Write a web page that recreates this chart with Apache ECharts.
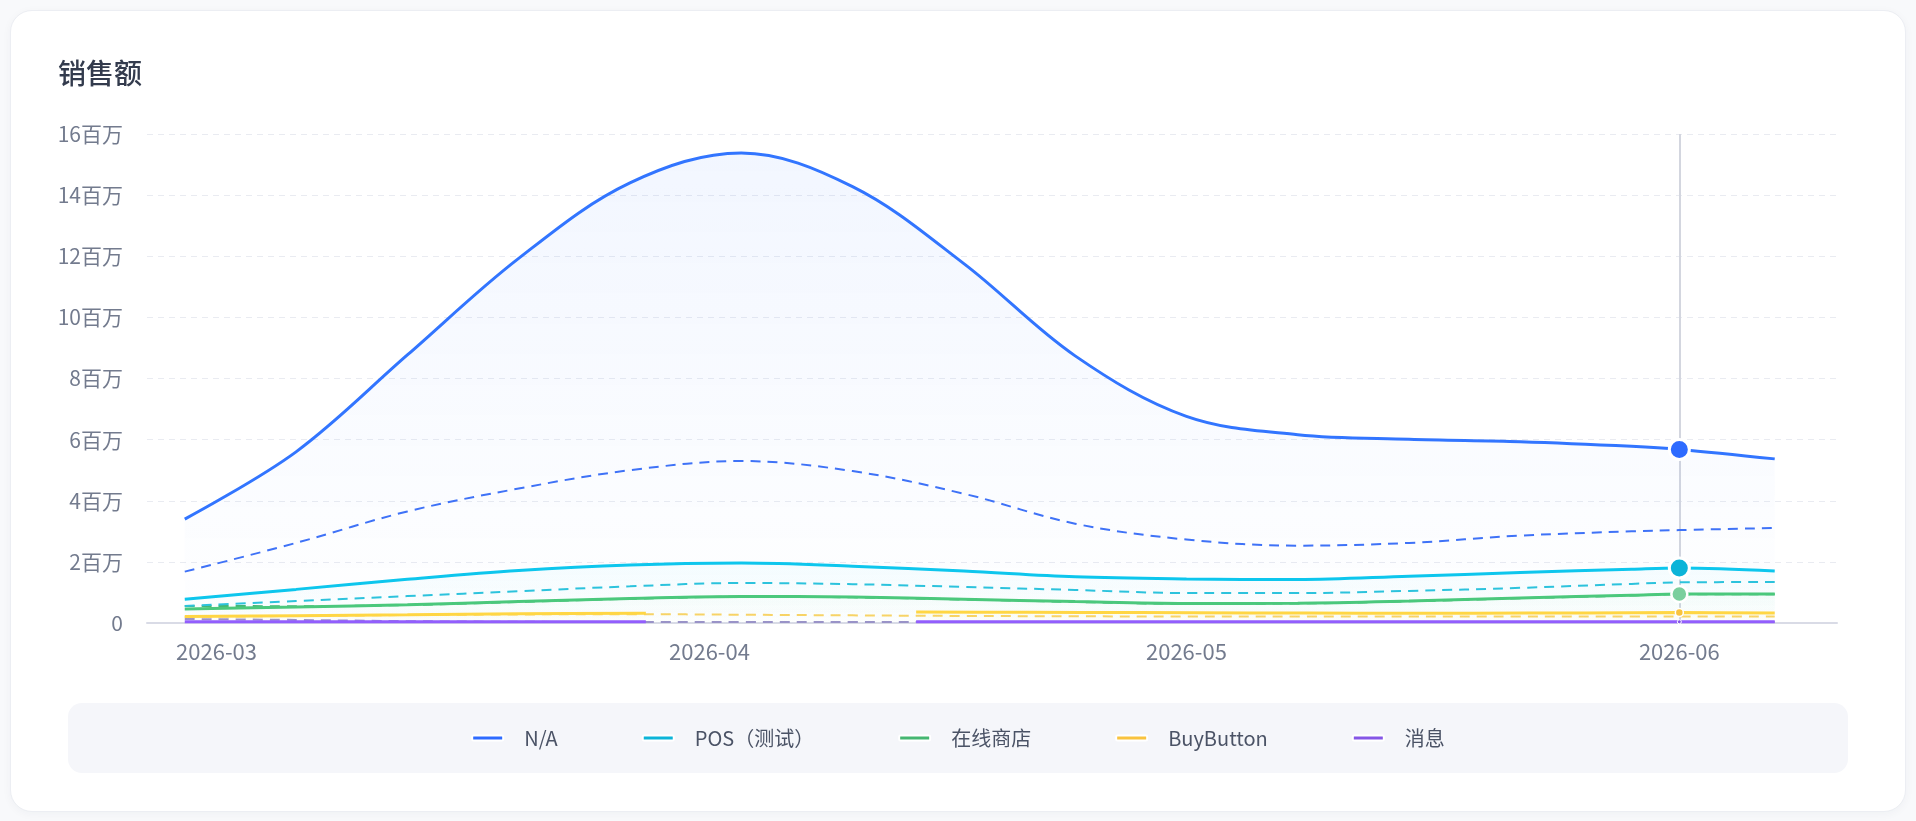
<!DOCTYPE html>
<html>
<head>
<meta charset="utf-8">
<title>销售额</title>
<script src="https://cdn.jsdelivr.net/npm/echarts@6/dist/echarts.min.js"></script>
<style>
    html,body{margin:0;padding:0;background:#f8f9fb;}
    .card{
        position:absolute;left:10px;top:10px;width:1894px;height:800px;
        background:#fff;border:1px solid #eceef3;border-radius:22px;
        box-shadow:0 2px 10px rgba(30,40,70,0.04);
    }
    #salesChart{position:absolute;left:0;top:0;width:1916px;height:821px;}
</style>
</head>
<body>
<div class="card"></div>
<div id="salesChart"></div>
<script>
// 横轴日期：每周一个点，最后补上 06-01 和 06-07
var dates = [
    "2026-02-27","2026-03-06","2026-03-13","2026-03-20","2026-03-27","2026-04-03",
    "2026-04-10","2026-04-17","2026-04-24","2026-05-01","2026-05-08","2026-05-15",
    "2026-05-22","2026-05-29","2026-06-01","2026-06-07"
];
// BuyButton / 消息 有一段没有数据，单独一组日期
var gapDates = [
    "2026-02-27","2026-03-06","2026-03-13","2026-03-20","2026-03-28","2026-04-04",
    "2026-04-14","2026-04-21","2026-04-28","2026-05-05","2026-05-12","2026-05-19",
    "2026-05-26","2026-06-01","2026-06-07"
];
// 单位：百万
var naSales        = [3.40, 5.60, 8.77, 11.93, 14.40, 15.38, 14.28, 11.76, 8.74, 6.76, 6.16, 6.01, 5.93, 5.78, 5.68, 5.37];
var naCompare      = [1.68, 2.62, 3.65, 4.40, 5.00, 5.30, 4.97, 4.23, 3.25, 2.73, 2.53, 2.62, 2.86, 3.00, 3.04, 3.11];
var posSales       = [0.78, 1.10, 1.43, 1.72, 1.90, 1.96, 1.86, 1.70, 1.51, 1.44, 1.42, 1.53, 1.65, 1.76, 1.80, 1.70];
var posCompare     = [0.56, 0.72, 0.88, 1.04, 1.20, 1.31, 1.27, 1.18, 1.08, 0.98, 0.98, 1.05, 1.15, 1.28, 1.33, 1.34];
var onlineSales    = [0.46, 0.52, 0.60, 0.70, 0.80, 0.87, 0.85, 0.78, 0.70, 0.64, 0.65, 0.72, 0.82, 0.91, 0.95, 0.95];
var onlineCompare  = [0.56, 0.55, 0.59, 0.69, 0.79, 0.86, 0.84, 0.77, 0.69, 0.63, 0.64, 0.71, 0.81, 0.90, 0.94, 0.94];
var buttonSales    = [0.21, 0.24, 0.27, 0.30, 0.32, null, 0.36, 0.35, 0.34, 0.33, 0.32, 0.32, 0.33, 0.34, 0.33];
var buttonCompare  = [0.20, 0.23, 0.26, 0.28, 0.29, 0.27, 0.25, 0.23, 0.22, 0.21, 0.21, 0.21, 0.21, 0.21, 0.21, 0.21];
var messageSales   = [0.04, 0.04, 0.04, 0.04, 0.04, null, 0.04, 0.04, 0.04, 0.04, 0.04, 0.04, 0.04, 0.04, 0.04];
var messageCompare = [0.13, 0.10, 0.06, 0.04, 0.03, 0.03, 0.03, 0.03, 0.03, 0.03, 0.03, 0.03, 0.03, 0.03, 0.03, 0.03];

var channelNames = ["N/A","POS（测试）","在线商店","BuyButton","消息"];
var channelColors = ["#2e6bff","#0cb4d8","#45b671","#f9c33e","#8556e6"];
var compareColors = ["#3f72f7","#2dc3dc","#45b671","#fcd465","#9a93c8"];
var yMin = 0, yMax = 16, yStep = 2;
var focusDate = "2026-06-01";

var FONT = "'Noto Sans CJK SC', 'Noto Sans', sans-serif";
var SMOOTH = 0.35;

function toPairs(xs,vals){
    return xs.map(function(d,i){
        return [d, vals[i] == null ? "-" : vals[i]];
    });
}
function fadeArea(hex,top,bottom){
    var r = parseInt(hex.substr(1,2),16), g = parseInt(hex.substr(3,2),16), b = parseInt(hex.substr(5,2),16);
    return new echarts.graphic.LinearGradient(0,0,0,1,[
        {offset:0,color:"rgba("+r+","+g+","+b+","+top+")"},
        {offset:1,color:"rgba("+r+","+g+","+b+","+bottom+")"}
    ]);
}
function solidLine(idx,xs,vals,size,border,dotColor,areaTop){
    return {
        name: channelNames[idx],
        type: "line",
        data: toPairs(xs,vals),
        smooth: SMOOTH,
        showSymbol: false,
        symbol: "circle",
        symbolSize: size,
        z: 5,
        lineStyle: {color: channelColors[idx], width: 3},
        itemStyle: {color: channelColors[idx], borderColor: "#fff", borderWidth: border},
        areaStyle: {color: fadeArea(channelColors[idx], areaTop, 0.005)},
        emphasis: {
            scale: false,
            lineStyle: {width: 3},
            itemStyle: {color: dotColor || channelColors[idx], borderColor: "#fff", borderWidth: border}
        }
    };
}
function dashLine(idx,vals){
    return {
        name: channelNames[idx] + " 对比",
        type: "line",
        data: toPairs(dates,vals),
        smooth: SMOOTH,
        symbol: "none",
        silent: true,
        z: 3,
        lineStyle: {color: compareColors[idx], width: 2, type: [10,7]},
        emphasis: {disabled: true}
    };
}
function monthLabel(val){
    var d = new Date(val);
    if (d.getDate() !== 1) return "";
    var m = d.getMonth() + 1;
    return d.getFullYear() + "-" + (m < 10 ? "0" + m : m);
}

var salesChart = echarts.init(document.getElementById("salesChart"));
var option = {
    animation: false,
    textStyle: {fontFamily: FONT},
    title: {
        text: "销售额",
        left: 53, top: 54,
        textStyle: {fontSize: 28, fontWeight: 500, color: "#333b4d", fontFamily: FONT}
    },
    graphic: [{
        type: "rect",
        left: 68, top: 703,
        shape: {width: 1780, height: 70, r: 14},
        style: {fill: "#f5f6fa"},
        silent: true
    }],
    grid: {left: 147, right: 79, top: 134, bottom: 198},
    tooltip: {
        trigger: "axis",
        showContent: false,
        axisPointer: {type: "line", z: 1, lineStyle: {color: "#d3d6df", width: 2, type: "solid"}}
    },
    legend: {
        data: channelNames,
        left: "center", top: 728,
        padding: 0,
        icon: "roundRect",
        itemWidth: 31, itemHeight: 5,
        itemGap: 84,
        textStyle: {fontSize: 20, color: "#4b5366", padding: [0,0,0,16], fontFamily: FONT}
    },
    xAxis: {
        type: "time",
        min: "2026-02-24 15:00",
        max: "2026-06-10 22:00",
        axisLine: {lineStyle: {color: "#d9dbe6", width: 2}},
        axisTick: {show: false},
        splitLine: {show: false},
        axisLabel: {
            formatter: monthLabel,
            showMinLabel: false, showMaxLabel: false,
            color: "#737b8e", fontSize: 22, margin: 18, fontFamily: FONT
        }
    },
    yAxis: {
        type: "value",
        min: yMin, max: yMax, interval: yStep,
        axisLine: {show: false},
        axisTick: {show: false},
        splitLine: {lineStyle: {color: "#e9ebf1", type: [6,5], width: 1}},
        axisLabel: {
            formatter: function(v){ return v === 0 ? "0" : v + "百万"; },
            color: "#737b8e", fontSize: 21, margin: 24, fontFamily: FONT
        }
    },
    series: [
        dashLine(4, messageCompare),
        dashLine(3, buttonCompare),
        dashLine(2, onlineCompare),
        dashLine(1, posCompare),
        dashLine(0, naCompare),
        solidLine(4, gapDates, messageSales, 4, 1, null, 0.03),
        solidLine(3, gapDates, buttonSales, 8, 1.5, null, 0.06),
        solidLine(2, dates, onlineSales, 16, 2.5, "#7acf9d", 0.05),
        solidLine(1, dates, posSales, 20, 3, null, 0.06),
        solidLine(0, dates, naSales, 20, 3, null, 0.09)
    ]
};
salesChart.setOption(option);

// 默认把坐标指示线停在 2026-06
salesChart.dispatchAction({
    type: "showTip",
    seriesIndex: 9,
    dataIndex: dates.indexOf(focusDate)
});
</script>
</body>
</html>
